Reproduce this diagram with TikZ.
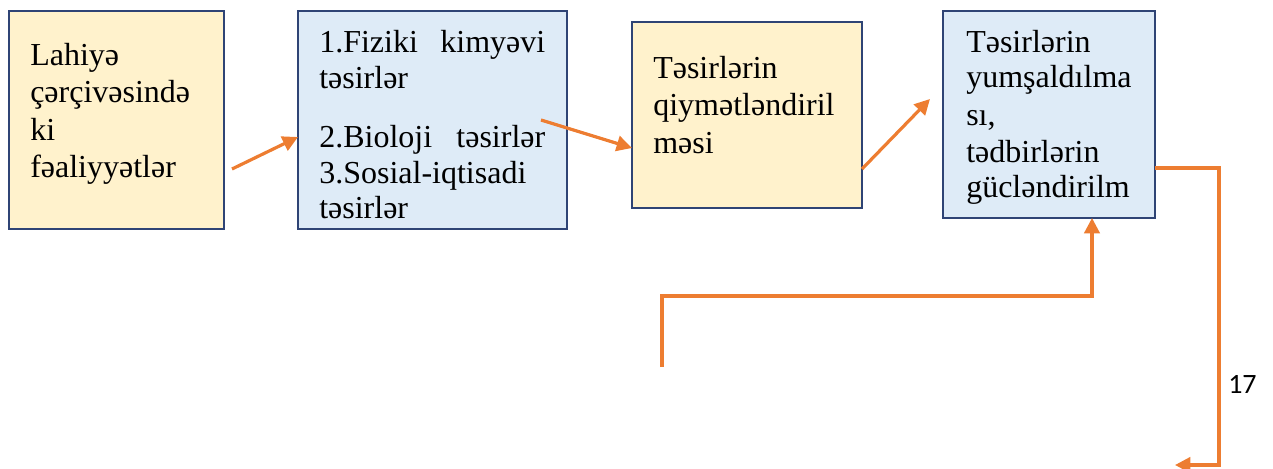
\documentclass[tikz,border=0pt]{standalone}
\usepackage{fontspec}
\setmainfont{Liberation Serif}
\newfontfamily\numfont{Carlito}
\usetikzlibrary{arrows.meta}
\definecolor{boxline}{HTML}{2F4475}
\definecolor{paleyellow}{HTML}{FFF2CC}
\definecolor{paleblue}{HTML}{DEEBF7}
\definecolor{flow}{HTML}{ED7D31}
\tikzset{
  panel/.style={draw=boxline, line width=1.8pt, inner sep=0pt, outer sep=0pt},
  ybox/.style={panel, fill=paleyellow},
  bbox/.style={panel, fill=paleblue},
  txt/.style={anchor=base west, inner sep=0pt, font=\fontsize{24}{27}\selectfont},
  link/.style={draw=flow, line width=2.4pt, -{Triangle[length=11.5pt,width=11.5pt]}},
}
\newcommand{\spreadline}[2]{\makebox[#1][s]{#2}}
\begin{document}
\begin{tikzpicture}[x=0.75pt, y=-0.75pt]
\useasboundingbox (0,0) rectangle (1273,468);

% the four stage boxes
\node[ybox, minimum width=215*0.75pt, minimum height=218*0.75pt] (b1) at (116.5,120) {};
\node[bbox, minimum width=269*0.75pt, minimum height=218*0.75pt] (b2) at (432.5,120) {};
\node[ybox, minimum width=230*0.75pt, minimum height=186*0.75pt] (b3) at (747,115) {};
\node[bbox, minimum width=212*0.75pt, minimum height=207*0.75pt] (b4) at (1049,114.5) {};

% box 1 text
\node[txt] (t11) at (30,65) {Lahiyə};
\node[txt] (t12) at (30,102) {çərçivəsində};
\node[txt] (t13) at (30,140) {ki};
\node[txt] (t14) at (30,177) {fəaliyyətlər};

% box 2 text
\node[txt] (t21) at (319,52) {\spreadline{169.5pt}{1.Fiziki\hfill kimyəvi}};
\node[txt] (t22) at (319,88) {təsirlər};
\node[txt] (t23) at (319,147) {\spreadline{169.5pt}{2.Bioloji\hfill təsirlər}};
\node[txt] (t24) at (319,183) {3.Sosial-iqtisadi};
\node[txt] (t25) at (319,218) {təsirlər};

% box 3 text
\node[txt] (t31) at (653,78) {Təsirlərin};
\node[txt] (t32) at (653,115) {qiymətləndiril};
\node[txt] (t33) at (653,153) {məsi};

% box 4 text
\node[txt] (t41) at (966,52) {Təsirlərin};
\node[txt] (t42) at (966,87) {yumşaldılma};
\node[txt] (t43) at (966,125) {sı,};
\node[txt] (t44) at (966,162) {tədbirlərin};
\node[txt] (t45) at (966,197) {gücləndirilm};

% connector end and bend points
\coordinate (a1s) at (232,169);
\coordinate (a1e) at (298,137);
\coordinate (a2s) at (541,120);
\coordinate (a2e) at (632,148);
\coordinate (a3s) at (862,169);
\coordinate (a3e) at (930,99);
\coordinate (a4c) at (1219,168);
\coordinate (a4d) at (1219,465);
\coordinate (a4e) at (1175,465);
\coordinate (a5s) at (662,367);
\coordinate (a5c) at (662,296);
\coordinate (a5d) at (1092,296);

\draw[link] (a1s) -- (a1e);
\draw[link] (a2s) -- (a2e);
\draw[link] (a3s) -- (a3e);
\draw[link] (b4.east |- a4c) -- (a4c) -- (a4d) -- (a4e);
\draw[link] (a5s) -- (a5c) -- (a5d) -- (a5d |- b4.south);

% page number
\node[anchor=base west, inner sep=0pt, font=\numfont\fontsize{21}{24}\selectfont] (pg) at (1228,393) {17};
\end{tikzpicture}
\end{document}
